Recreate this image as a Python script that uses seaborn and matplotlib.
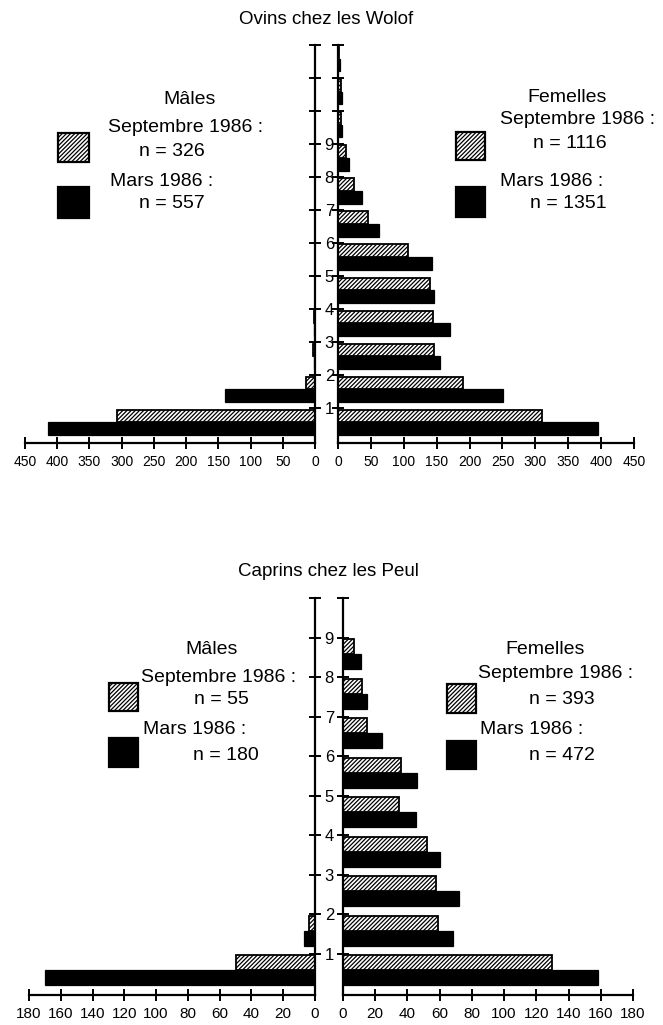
import numpy as np
import pandas as pd
import matplotlib
matplotlib.use('Agg')
import matplotlib.pyplot as plt
from matplotlib.patches import Rectangle
import seaborn as sns

# Donnees (effectifs par classe d'age, annees)
ages_ovins = list(range(12))
ovins_males_sept = [308, 14, 3, 2, 0, 0, 0, 0, 0, 0, 0, 0]
ovins_males_mars = [414, 140, 2, 1, 0, 0, 0, 0, 0, 0, 0, 0]
ovins_fem_sept = [310, 190, 146, 145, 140, 107, 46, 25, 12, 4, 4, 2]
ovins_fem_mars = [395, 251, 155, 171, 146, 143, 62, 37, 17, 6, 6, 3]

ages_caprins = list(range(9))
caprins_males_sept = [50, 4, 0, 0, 0, 0, 0, 0, 0]
caprins_males_mars = [170, 7, 0, 0, 0, 0, 0, 0, 0]
caprins_fem_sept = [130, 59, 58, 52, 35, 36, 15, 12, 7]
caprins_fem_mars = [158, 68, 72, 60, 45, 46, 24, 15, 11]

ticks_ovins = [0, 50, 100, 150, 200, 250, 300, 350, 400, 450]
ticks_caprins = [0, 20, 40, 60, 80, 100, 120, 140, 160, 180]

sns.set_style('ticks')
plt.rcParams['font.family'] = ['Liberation Sans', 'DejaVu Sans']
plt.rcParams['hatch.linewidth'] = 0.9
for k in ['text.color', 'axes.edgecolor', 'axes.labelcolor', 'xtick.color', 'ytick.color']:
    plt.rcParams[k] = 'black'

HACH = '////////'
W, H = 663, 1025
fig = plt.figure(figsize=(W / 100, H / 100), dpi=100)


def rect(x0, y0, x1, y1):
    return [x0 / W, 1 - y1 / H, (x1 - x0) / W, (y1 - y0) / H]


def pyramide(ax, ages, sept, mars, xticks, ytop, male, fs_tick):
    df = pd.DataFrame({
        'pos': [a + 0.58 for a in ages] * 2,
        'n': sept + mars,
        'periode': ['Septembre'] * len(ages) + ['Mars'] * len(ages),
    })
    sns.barplot(data=df, x='n', y='pos', hue='periode', hue_order=['Mars', 'Septembre'],
                palette={'Mars': 'black', 'Septembre': 'white'}, orient='y',
                native_scale=True, width=0.76, saturation=1, edgecolor='black',
                linewidth=0.9, errorbar=None, legend=False, ax=ax)
    for bar in ax.patches:
        if bar.get_facecolor()[0] > 0.5:
            bar.set_hatch(HACH)
            bar.set_linewidth(1.3)
    ax.set_xlabel('')
    ax.set_ylabel('')
    ax.set_ylim(-0.05, ytop)
    ax.set_xticks(xticks)
    ax.set_xticklabels([str(t) for t in xticks], fontsize=fs_tick)
    yt = list(range(1, ytop + 1))
    ax.set_yticks(yt)
    ax.spines['top'].set_visible(False)
    if male:
        ax.set_xlim(xticks[-1], 0)
        ax.spines['left'].set_visible(False)
        ax.yaxis.tick_right()
        ax.set_yticklabels([str(t) if t <= 9 else '' for t in yt], fontsize=12)
    else:
        ax.set_xlim(0, xticks[-1])
        ax.spines['right'].set_visible(False)
        ax.set_yticklabels([''] * len(yt))
    for s in ['left', 'right', 'bottom']:
        ax.spines[s].set_linewidth(1.6)
    ax.tick_params(axis='both', direction='inout', length=8, width=1.4, pad=3)
    ax.tick_params(axis='x', pad=5)
    ax.patch.set_alpha(0)


# Ovins
ax1 = fig.add_axes(rect(25, 45, 315, 443))
pyramide(ax1, ages_ovins, ovins_males_sept, ovins_males_mars, ticks_ovins, 12, True, 10)
ax2 = fig.add_axes(rect(338, 45, 634, 443))
pyramide(ax2, ages_ovins, ovins_fem_sept, ovins_fem_mars, ticks_ovins, 12, False, 10)

# Caprins
ax3 = fig.add_axes(rect(29, 598, 315, 995))
pyramide(ax3, ages_caprins, caprins_males_sept, caprins_males_mars, ticks_caprins, 10, True, 11)
ax4 = fig.add_axes(rect(343, 598, 633, 995))
pyramide(ax4, ages_caprins, caprins_fem_sept, caprins_fem_mars, ticks_caprins, 10, False, 11)


def txt(x, y, s, size=14):
    fig.text(x / W, 1 - y / H, s, ha='center', va='center', fontsize=size)


def boite(x0, y0, x1, y1, hachure):
    r = Rectangle((x0 / W, 1 - y1 / H), (x1 - x0) / W, (y1 - y0) / H,
                  transform=fig.transFigure, facecolor='white' if hachure else 'black',
                  edgecolor='black', linewidth=1.6, hatch=HACH if hachure else None)
    fig.patches.append(r)


txt(326, 20, 'Ovins chez les Wolof', 13.5)
txt(328, 572, 'Caprins chez les Peul', 13.5)

# legendes ovins
txt(190, 100, 'Mâles')
txt(186, 128, 'Septembre 1986 :')
txt(172, 151, 'n = 326')
boite(58, 133, 89, 162, True)
txt(162, 182, 'Mars 1986 :')
txt(172, 203, 'n = 557')
boite(58, 187, 89, 218, False)

txt(567, 97, 'Femelles')
txt(578, 120, 'Septembre 1986 :')
txt(570, 143, 'n = 1116')
boite(456, 132, 485, 160, True)
txt(552, 182, 'Mars 1986 :')
txt(568, 203, 'n = 1351')
boite(456, 187, 485, 217, False)

# legendes caprins
txt(212, 650, 'Mâles')
txt(219, 677, 'Septembre 1986 :')
txt(221, 700, 'n = 55')
boite(109, 683, 138, 711, True)
txt(195, 730, 'Mars 1986 :')
txt(226, 755, 'n = 180')
boite(109, 738, 138, 767, False)

txt(545, 650, 'Femelles')
txt(556, 673, 'Septembre 1986 :')
txt(562, 700, 'n = 393')
boite(447, 684, 476, 713, True)
txt(532, 730, 'Mars 1986 :')
txt(562, 755, 'n = 472')
boite(447, 741, 476, 769, False)

fig.savefig('out.png', dpi=100)
